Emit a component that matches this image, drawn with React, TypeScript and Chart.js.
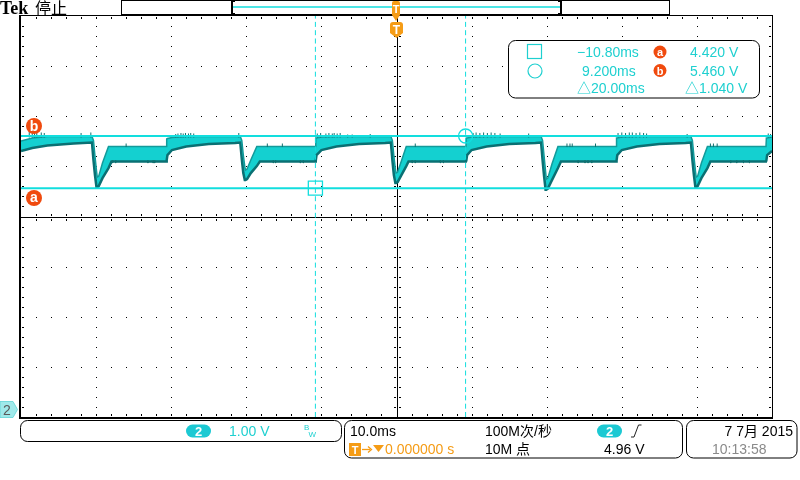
import React, { useEffect, useRef } from 'react';
import { Chart, registerables } from 'chart.js';

Chart.register(...registerables);

// ---- scales: 10 ms/div horizontally (10 div), 1.00 V/div vertically (8 div)
const X_MIN = -50;
const X_MAX = 50;
const Y_MIN = -0.146;
const Y_MAX = 7.854;

// ---- cursors
const cursorTimes = [-10.8, 9.2];
const cursorVolts = [4.42, 5.46];
const readTimeLabels = ['\u221210.80ms', '9.200ms', '\u25B320.00ms'];
const readVoltLabels = ['4.420 V', '5.460 V', '\u25B31.040 V'];

// ---- waveform envelope (persistence band): time in ms, upper and lower edge in V
const waveT = [
  -50, -48.5, -46.5, -43,
  -40.55, -40.35, -40.15, -39.95, -39.85, -39.65, -39.15, -38.35, -37.95,
  -30.65, -30.6, -30.5, -29.9, -28, -25, -21.5,
  -20.8, -20.6, -20.4, -20.2, -20.1, -19.9, -19.4, -18.6, -18.2,
  -10.8, -10.75, -10.65, -10.0, -8, -5, -1.5,
  -0.75, -0.55, -0.35, -0.15, -0.05, 0.15, 0.65, 1.3, 1.6,
  9.25, 9.3, 9.4, 10.0, 12, 15, 18.5,
  19.25, 19.45, 19.65, 19.85, 19.95, 20.15, 20.7, 21.5, 21.9,
  29.25, 29.3, 29.4, 30.0, 32, 35, 38.5,
  39.2, 39.4, 39.6, 39.8, 39.9, 40.1, 40.6, 41.4, 41.8,
  49.2, 49.25, 49.35, 50,
];
const waveHi = [
  5.36, 5.42, 5.45, 5.45,
  5.45, 5.37, 5.06, 4.77, 4.64, 4.66, 4.92, 5.25, 5.25,
  5.25, 5.40, 5.41, 5.43, 5.45, 5.45, 5.45,
  5.45, 5.37, 5.08, 4.85, 4.78, 4.80, 4.98, 5.25, 5.25,
  5.25, 5.42, 5.42, 5.44, 5.45, 5.45, 5.45,
  5.45, 5.37, 5.06, 4.80, 4.72, 4.74, 4.96, 5.25, 5.25,
  5.25, 5.42, 5.42, 5.44, 5.45, 5.45, 5.45,
  5.45, 5.37, 5.06, 4.75, 4.60, 4.62, 4.90, 5.25, 5.25,
  5.25, 5.42, 5.42, 5.44, 5.45, 5.45, 5.45,
  5.45, 5.37, 5.06, 4.77, 4.64, 4.66, 4.92, 5.25, 5.25,
  5.25, 5.42, 5.42, 5.44,
];
const waveLo = [
  5.16, 5.22, 5.27, 5.31,
  5.33, 4.98, 4.68, 4.44, 4.44, 4.46, 4.62, 4.82, 4.95,
  4.95, 4.98, 5.08, 5.18, 5.25, 5.30, 5.32,
  5.33, 5.00, 4.72, 4.58, 4.58, 4.60, 4.72, 4.86, 4.95,
  4.95, 4.97, 5.08, 5.18, 5.25, 5.30, 5.32,
  5.33, 4.98, 4.68, 4.52, 4.52, 4.54, 4.68, 4.86, 4.95,
  4.95, 4.97, 5.08, 5.18, 5.25, 5.30, 5.32,
  5.33, 4.98, 4.66, 4.39, 4.39, 4.41, 4.58, 4.82, 4.95,
  4.95, 4.97, 5.08, 5.18, 5.25, 5.30, 5.32,
  5.33, 4.98, 4.68, 4.44, 4.44, 4.46, 4.62, 4.82, 4.95,
  4.95, 4.97, 5.08, 5.16,
];

// ---- glitch spikes
const HIGH_SPIKE_BASE = 5.43;
const highSpikeT = [
  -48.9, -48.5, -48.2, -47.9, -47.3, -46.9, -42.0, -40.7,
  -29.4, -29.1, -28.7, -28.4, -28.1, -27.7, -27.4, -27.0, -21.0,
  -10.55, -10.1, -9.4, -9.0, -8.55, -8.3, -7.9, -7.5, -6.5, -5.9, -3.5,
  10.2, 10.6, 11.1, 11.6, 12.1, 12.6, 13.1, 13.8, 17.6,
  29.5, 30.0, 30.5, 31.0, 31.4, 31.9, 32.4, 32.9, 33.3, 38.7,
  49.5, 49.8,
];
const highSpikeTip = [
  5.54, 5.53, 5.54, 5.52, 5.53, 5.52, 5.52, 5.53,
  5.50, 5.51, 5.52, 5.51, 5.52, 5.51, 5.52, 5.51, 5.52,
  5.51, 5.52, 5.51, 5.52, 5.51, 5.52, 5.51, 5.52, 5.49, 5.49, 5.50,
  5.52, 5.53, 5.52, 5.53, 5.52, 5.53, 5.52, 5.51, 5.51,
  5.52, 5.53, 5.52, 5.53, 5.53, 5.52, 5.53, 5.52, 5.51, 5.50,
  5.51, 5.50,
];
const LOW_DOWN_BASE = 4.97;
const LOW_DOWN_TIP = 4.92;
const lowDownT = [
  -37.8, -37.4, -33.1, -32.4, -32.2, -16.4, -16.1, -12.8, -12.4,
  2.1, 2.5, 5.85, 6.25, 24.2, 25.1, 25.5, 26.0, 44.5, 45.3, 46.2, 47.0,
];
const LOW_UP_BASE = 5.24;
const LOW_UP_TIP = 5.31;
const lowUpT = [-36.0, -17.2, -15.2, 2.5, 22.7, 23.1, 23.4, 26.5, 41.8, 42.2, 42.7];

// ---- colours
const CYAN = '#12dede';
const CYAN_TXT = '#1fd0d0';
const ORANGE = '#f59c16';
const RED_ORANGE = '#f04a0e';
const SANS = "'Liberation Sans', Arial, 'Noto Sans CJK SC', sans-serif";

const gridPlugin = {
  id: 'scopeGrid',
  beforeDatasetsDraw(chart: any) {
    const { ctx, chartArea: a } = chart;
    const w = a.right - a.left;
    const h = a.bottom - a.top;
    const dx = w / 50;
    const dy = h / 40;
    ctx.save();
    ctx.fillStyle = '#000';
    for (let i = 1; i < 10; i++) {
      if (i === 5) continue;
      const x = Math.round(a.left + (i * w) / 10);
      for (let j = 1; j < 40; j++) ctx.fillRect(x, Math.round(a.top + j * dy), 1, 1);
    }
    for (let k = 1; k < 8; k++) {
      if (k === 4) continue;
      const y = Math.round(a.top + (k * h) / 8);
      for (let j = 1; j < 50; j++) ctx.fillRect(Math.round(a.left + j * dx), y, 1, 1);
    }
    const cx = Math.round(a.left + w / 2);
    const cy = Math.round(a.top + h / 2);
    ctx.fillRect(cx, a.top, 1, h);
    ctx.fillRect(a.left, cy, w, 1);
    for (let j = 1; j < 50; j++) {
      const x = Math.round(a.left + j * dx);
      ctx.fillRect(x, cy - 3, 1, 2);
      ctx.fillRect(x, cy + 2, 1, 2);
      ctx.fillRect(x, Math.round(a.top) + 1, 1, 2);
      ctx.fillRect(x, Math.round(a.bottom) - 3, 1, 2);
    }
    for (let j = 1; j < 40; j++) {
      const y = Math.round(a.top + j * dy);
      ctx.fillRect(cx - 3, y, 2, 1);
      ctx.fillRect(cx + 2, y, 2, 1);
      ctx.fillRect(Math.round(a.left) + 1, y, 2, 1);
      ctx.fillRect(Math.round(a.right) - 3, y, 2, 1);
    }
    ctx.restore();
  },
  afterDatasetsDraw(chart: any) {
    const { ctx, chartArea: a } = chart;
    const l = Math.round(a.left), r = Math.round(a.right), t = Math.round(a.top), b = Math.round(a.bottom);
    ctx.save();
    ctx.fillStyle = '#000';
    ctx.fillRect(l - 2, t - 1, 2, b - t + 3);
    ctx.fillRect(l, t - 1, r - l, 1);
    ctx.fillRect(r, t - 1, 1, b - t + 3);
    ctx.fillRect(l - 2, b, r - l + 3, 2);
    ctx.restore();
  },
};

function ScopeChart() {
  const ref = useRef<HTMLCanvasElement | null>(null);
  useEffect(() => {
    if (!ref.current) return;
    const hi = waveT.map((t, i) => ({ x: t, y: waveHi[i] }));
    const lo = waveT.map((t, i) => ({ x: t, y: waveLo[i] }));
    const spikes: any[] = [];
    highSpikeT.forEach((t, i) => {
      spikes.push({ x: t, y: HIGH_SPIKE_BASE }, { x: t, y: highSpikeTip[i] }, { x: t, y: null });
    });
    lowDownT.forEach((t) => {
      spikes.push({ x: t, y: LOW_DOWN_BASE }, { x: t, y: LOW_DOWN_TIP }, { x: t, y: null });
    });
    lowUpT.forEach((t) => {
      spikes.push({ x: t, y: LOW_UP_BASE }, { x: t, y: LOW_UP_TIP }, { x: t, y: null });
    });
    const chart = new Chart(ref.current, {
      type: 'line',
      data: {
        datasets: [
          { data: hi, borderColor: '#139a9a', borderWidth: 1.5, pointRadius: 0, fill: false, order: 5 },
          { data: lo, borderColor: '#0a7073', borderWidth: 2.5, pointRadius: 0, fill: '-1', backgroundColor: '#14d0d0', order: 5 },
          { data: spikes, borderColor: '#127070', borderWidth: 1, pointRadius: 0, spanGaps: false, order: 4 },
          { data: [{ x: X_MIN, y: cursorVolts[0] }, { x: X_MAX, y: cursorVolts[0] }], borderColor: CYAN, borderWidth: 2, pointRadius: 0, order: 2 },
          { data: [{ x: X_MIN, y: cursorVolts[1] }, { x: X_MAX, y: cursorVolts[1] }], borderColor: CYAN, borderWidth: 2, pointRadius: 0, order: 2 },
          { data: [{ x: cursorTimes[0], y: Y_MIN }, { x: cursorTimes[0], y: Y_MAX }], borderColor: CYAN, borderWidth: 1, borderDash: [5, 3.3], pointRadius: 0, order: 2 },
          { data: [{ x: cursorTimes[1], y: Y_MIN }, { x: cursorTimes[1], y: Y_MAX }], borderColor: CYAN, borderWidth: 1, borderDash: [5, 3.3], pointRadius: 0, order: 2 },
          { data: [{ x: cursorTimes[0], y: cursorVolts[0] }], showLine: false, pointStyle: 'rect', pointRadius: 10, borderColor: CYAN, borderWidth: 1.3, backgroundColor: 'rgba(0,0,0,0)', order: 1 },
          { data: [{ x: cursorTimes[1], y: cursorVolts[1] }], showLine: false, pointStyle: 'circle', pointRadius: 7, borderColor: CYAN, borderWidth: 1.3, backgroundColor: 'rgba(0,0,0,0)', order: 1 },
        ],
      },
      options: {
        responsive: false,
        animation: false,
        events: [],
        layout: { padding: { left: 21, top: 16, right: 28, bottom: 63 } },
        plugins: { legend: { display: false }, tooltip: { enabled: false } },
        elements: { line: { tension: 0 } },
        scales: {
          x: { type: 'linear', min: X_MIN, max: X_MAX, display: false },
          y: { type: 'linear', min: Y_MIN, max: Y_MAX, display: false },
        },
      } as any,
      plugins: [gridPlugin],
    } as any);
    return () => chart.destroy();
  }, []);
  return <canvas ref={ref} width={800} height={480} style={{ position: 'absolute', left: 0, top: 0 }} />;
}

function Overlay() {
  return (
    <svg width={800} height={480} style={{ position: 'absolute', left: 0, top: 0, pointerEvents: 'none' }} fontFamily={SANS}>
      {/* header */}
      <text x={0} y={14} fontFamily="'Liberation Serif', serif" fontWeight="bold" fontSize={18} fill="#000">Tek</text>
      <text x={35} y={14} fontFamily="'Noto Sans CJK SC', sans-serif" fontSize={16} fill="#000">停止</text>
      {/* record bar */}
      <rect x={121.5} y={0.5} width={548} height={14} fill="#fff" stroke="#000" strokeWidth={1} />
      <line x1={233} x2={560} y1={7} y2={7} stroke={CYAN} strokeWidth={1.5} />
      <path d="M235,1 H232 V14 H235" stroke="#000" strokeWidth={2} fill="none" />
      <path d="M558,1 H561 V14 H558" stroke="#000" strokeWidth={2} fill="none" />
      {/* trigger position markers */}
      <path d="M392,3 Q392,1 394,1 H398 Q400,1 400,3 V15 L396,21 L392,15 Z" fill={ORANGE} />
      <text x={396} y={13} textAnchor="middle" fontSize={11} fontWeight="bold" fill="#fff">T</text>
      <path d="M390,25 Q390,22 393,22 H400 Q403,22 403,25 V33 L396.5,38 L390,33 Z" fill={ORANGE} />
      <text x={396.5} y={33.5} textAnchor="middle" fontSize={12} fontWeight="bold" fill="#fff">T</text>
      {/* cursor readout */}
      <rect x={508.5} y={40.5} width={251} height={57.5} rx={7} fill="#fff" stroke="#000" strokeWidth={1} />
      <rect x={527.5} y={44.5} width={14} height={14} fill="none" stroke={CYAN_TXT} strokeWidth={1.2} />
      <circle cx={535} cy={71} r={7} fill="none" stroke={CYAN_TXT} strokeWidth={1.2} />
      <text x={577} y={57} fontSize={14} fill={CYAN_TXT}>{readTimeLabels[0]}</text>
      <text x={582} y={75.5} fontSize={14} fill={CYAN_TXT}>{readTimeLabels[1]}</text>
      <text x={577} y={92.5} fontSize={14} fill={CYAN_TXT}>{readTimeLabels[2]}</text>
      <circle cx={660} cy={52} r={6.5} fill={RED_ORANGE} />
      <text x={660} y={56} textAnchor="middle" fontSize={11} fontWeight="bold" fill="#fff">a</text>
      <circle cx={660} cy={70.5} r={6.5} fill={RED_ORANGE} />
      <text x={660} y={74.5} textAnchor="middle" fontSize={11} fontWeight="bold" fill="#fff">b</text>
      <text x={690} y={57} fontSize={14} fill={CYAN_TXT}>{readVoltLabels[0]}</text>
      <text x={690} y={75.5} fontSize={14} fill={CYAN_TXT}>{readVoltLabels[1]}</text>
      <text x={685} y={92.5} fontSize={14} fill={CYAN_TXT}>{readVoltLabels[2]}</text>
      {/* cursor labels on the left */}
      <circle cx={34} cy={126} r={8} fill={RED_ORANGE} />
      <text x={34} y={131} textAnchor="middle" fontSize={14} fontWeight="bold" fill="#fff">b</text>
      <circle cx={34} cy={198} r={8} fill={RED_ORANGE} />
      <text x={34} y={202} textAnchor="middle" fontSize={14} fontWeight="bold" fill="#fff">a</text>
      {/* ground marker */}
      <path d="M0,401.5 H13 L17.5,409.5 L13,417.5 H0 Z" fill="#9fe9ea" stroke="#5fd4d6" strokeWidth={0.8} />
      <text x={7} y={414.5} textAnchor="middle" fontSize={14} fill="#5a5a5a">2</text>
      {/* bottom: channel box */}
      <rect x={20.5} y={420.5} width={321} height={21} rx={7} fill="#fff" stroke="#000" strokeWidth={1} />
      <rect x={186} y={424.5} width={25} height={13} rx={6.5} fill="#1cc9d3" />
      <text x={198.5} y={435.5} textAnchor="middle" fontSize={13} fontWeight="bold" fill="#fff">2</text>
      <text x={229} y={436} fontSize={14} fill={CYAN_TXT}>1.00 V</text>
      <text x={304} y={430} fontSize={8} fill={CYAN_TXT}>B</text>
      <text x={308.5} y={437} fontSize={8} fill={CYAN_TXT}>W</text>
      {/* bottom: horizontal / trigger box */}
      <rect x={344.5} y={420.5} width={338} height={37.5} rx={7} fill="#fff" stroke="#000" strokeWidth={1} />
      <text x={350} y={436} fontSize={14} fill="#000">10.0ms</text>
      <rect x={349} y={443} width={12} height={13} fill={ORANGE} />
      <text x={355} y={454} textAnchor="middle" fontSize={11} fontWeight="bold" fill="#fff">T</text>
      <path d="M362,449.5 H370" stroke={ORANGE} strokeWidth={1.3} />
      <path d="M368,446.5 L371.5,449.5 L368,452.5" stroke={ORANGE} strokeWidth={1.3} fill="none" />
      <path d="M373,445 H384 L378.5,452 Z" fill={ORANGE} />
      <text x={385} y={454} fontSize={14} fill={ORANGE}>0.000000 s</text>
      <text x={485} y={436} fontSize={14} fill="#000">100M次/秒</text>
      <text x={485} y={454} fontSize={14} fill="#000">10M 点</text>
      <rect x={597} y={424.5} width={25} height={13} rx={6.5} fill="#1cc9d3" />
      <text x={609.5} y={435.5} textAnchor="middle" fontSize={13} fontWeight="bold" fill="#fff">2</text>
      <path d="M631,437 H634 L638.5,425 H641.5" stroke="#222" strokeWidth={1} fill="none" />
      <text x={604} y={454} fontSize={14} fill="#000">4.96 V</text>
      {/* bottom: date box */}
      <rect x={686.5} y={420.5} width={110.5} height={37.5} rx={7} fill="#fff" stroke="#000" strokeWidth={1} />
      <text x={793} y={436} textAnchor="end" fontSize={14} fill="#000">7 7月 2015</text>
      <text x={712} y={454} fontSize={14} fill="#8a8a8a">10:13:58</text>
    </svg>
  );
}

export default function App() {
  return (
    <div style={{ position: 'fixed', left: 0, top: 0, width: 800, height: 480, background: '#fff', overflow: 'hidden' }}>
      <ScopeChart />
      <Overlay />
    </div>
  );
}
